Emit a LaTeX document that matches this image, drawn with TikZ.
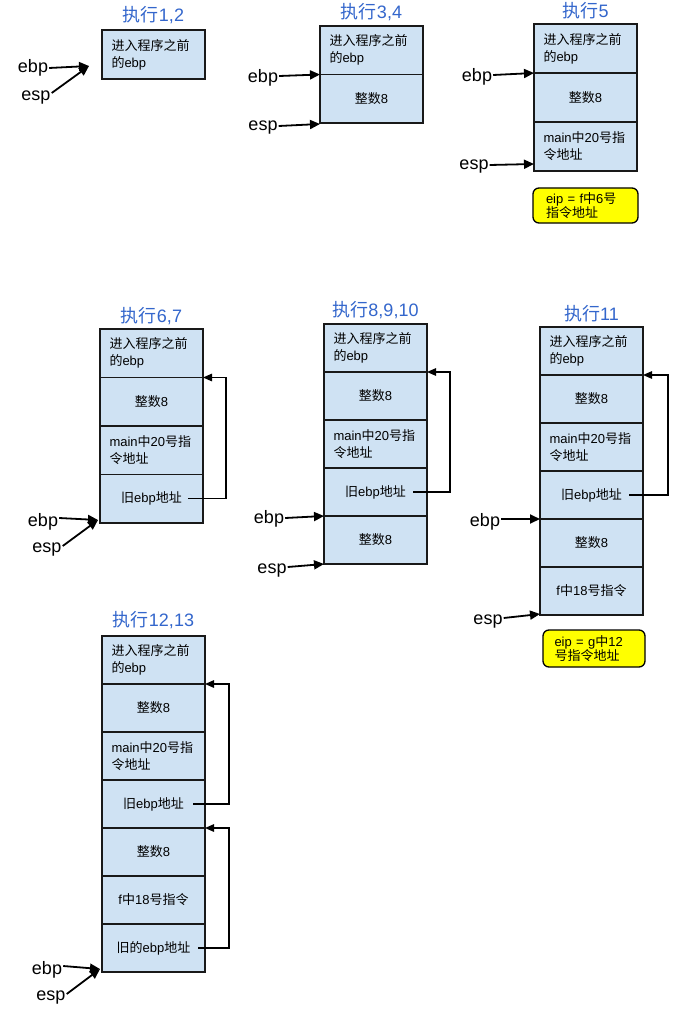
\documentclass[tikz,border=0pt]{standalone}
\usepackage{fontspec}
\setmainfont{Liberation Sans}
\newfontfamily\cjk{Noto Sans CJK SC}
\newcommand\zh[1]{{\cjk #1}}
\usetikzlibrary{arrows.meta}
\definecolor{cellblue}{RGB}{207,226,243}
\definecolor{titleblue}{RGB}{51,102,204}
\definecolor{hl}{RGB}{255,255,0}
\tikzset{
  cell/.style={draw=black!90, line width=1.3pt, fill=cellblue, minimum width=103pt, outer sep=0pt,
    minimum height=48.5pt, inner sep=0pt, font=\fontsize{13}{17}\selectfont, anchor=north west},
  cellL/.style={cell, text width=84pt, align=left},
  cellC/.style={cell, align=center},
  ttl/.style={text=titleblue, font=\fontsize{18}{20}\selectfont, inner sep=0pt},
  reg/.style={font=\fontsize{18}{20}\selectfont, inner sep=1pt},
  ptr/.style={-{Triangle[length=10pt,width=9pt]}, line width=1.8pt},
  back/.style={-{Triangle[length=9pt,width=7.5pt]}, line width=1.3pt},
  note/.style={draw=black, line width=1.3pt, fill=hl, rounded corners=6pt, outer sep=0pt,
    inner sep=0pt, text width=79pt, align=left,
    font=\fontsize{13}{13.5}\selectfont, anchor=north west}
}
\begin{document}
\begin{tikzpicture}[x=1pt,y=-1pt]
\useasboundingbox[fill=white] (0,0) rectangle (685,1011);

% ---------- 执行1,2
\node[cellL, minimum height=49pt] (a1) at (102,30) {\zh{进入程序之前}\\\zh{的}ebp};
\node[ttl] (t1) at ([yshift=15pt]a1.north) {\zh{执行}1,2};
\node[reg] (ebp1) at (33,68) {ebp};
\node[reg] (esp1) at (36,98) {esp};
\coordinate (p1) at (89,66);
\draw[ptr] (ebp1.east) -- (p1);
\draw[ptr] ([yshift=5pt]esp1.east) -- (p1);

% ---------- 执行3,4
\node[cellL] (a2) at (320,26) {\zh{进入程序之前}\\\zh{的}ebp};
\node[cellC] (b2) at (a2.south west) {\zh{整数}8};
\node[ttl] (t2) at ([yshift=14pt]a2.north) {\zh{执行}3,4};
\node[reg] (ebp2) at (263,78) {ebp};
\node[reg] (esp2) at (263,128) {esp};
\draw[ptr] ([yshift=2pt]ebp2.east) -- (b2.north west);
\draw[ptr] ([yshift=2pt]esp2.east) -- ([yshift=-1pt]b2.south west);

% ---------- 执行5
\node[cellL, minimum height=49pt] (a3) at (534,24) {\zh{进入程序之前}\\\zh{的}ebp};
\node[cellC, minimum height=49pt] (b3) at (a3.south west) {\zh{整数}8};
\node[cellL, minimum height=49pt] (c3) at (b3.south west) {main\zh{中}20\zh{号指}\\\zh{令地址}};
\node[ttl] (t3) at ([yshift=13pt]a3.north) {\zh{执行}5};
\node[reg] (ebp3) at (477,77) {ebp};
\node[reg] (esp3) at (474,167) {esp};
\draw[ptr] ([yshift=2pt]ebp3.east) -- (b3.north west);
\draw[ptr] ([yshift=2pt]esp3.east) -- ([yshift=7pt]c3.south west);
\node[note, minimum width=105pt, minimum height=35pt] (n3) at (533,188) {eip = f\zh{中}6\zh{号}\\\zh{指令地址}};

% ---------- 执行6,7
\node[cellL] (a4) at (100,329) {\zh{进入程序之前}\\\zh{的}ebp};
\node[cellC] (b4) at (a4.south west) {\zh{整数}8};
\node[cellL] (c4) at (b4.south west) {main\zh{中}20\zh{号指}\\\zh{令地址}};
\node[cellC] (d4) at (c4.south west) {\zh{旧}ebp\zh{地址}};
\node[ttl] (t4) at ([yshift=13pt]a4.north) {\zh{执行}6,7};
\draw[back] ([xshift=-15pt]d4.east) -- ++(38,0) |- (b4.north east);
\node[reg] (ebp4) at (43,522) {ebp};
\node[reg] (esp4) at (47,550) {esp};
\coordinate (p4) at ([shift={(-2pt,3pt)}]d4.south west);
\draw[ptr] ([yshift=4pt]ebp4.east) -- (p4);
\draw[ptr] ([yshift=4pt]esp4.east) -- (p4);

% ---------- 执行8,9,10
\node[cellL, minimum height=48pt] (a5) at (324,324) {\zh{进入程序之前}\\\zh{的}ebp};
\node[cellC, minimum height=48pt] (b5) at (a5.south west) {\zh{整数}8};
\node[cellL, minimum height=48pt] (c5) at (b5.south west) {main\zh{中}20\zh{号指}\\\zh{令地址}};
\node[cellC, minimum height=48pt] (d5) at (c5.south west) {\zh{旧}ebp\zh{地址}};
\node[cellC, minimum height=48pt] (e5) at (d5.south west) {\zh{整数}8};
\node[ttl] (t5) at ([yshift=14pt]a5.north) {\zh{执行}8,9,10};
\draw[back] ([xshift=-14pt]d5.east) -- ++(37,0) |- (b5.north east);
\node[reg] (ebp5) at (269,519) {ebp};
\node[reg] (esp5) at (272,571) {esp};
\draw[ptr] ([yshift=1pt]ebp5.east) -- (e5.north west);
\draw[ptr] ([yshift=4pt]esp5.east) -- (e5.south west);

% ---------- 执行11
\node[cellL, minimum height=48pt] (a6) at (540,327) {\zh{进入程序之前}\\\zh{的}ebp};
\node[cellC, minimum height=48pt] (b6) at (a6.south west) {\zh{整数}8};
\node[cellL, minimum height=48pt] (c6) at (b6.south west) {main\zh{中}20\zh{号指}\\\zh{令地址}};
\node[cellC, minimum height=48pt] (d6) at (c6.south west) {\zh{旧}ebp\zh{地址}};
\node[cellC, minimum height=48pt] (e6) at (d6.south west) {\zh{整数}8};
\node[cellC, minimum height=48pt] (f6) at (e6.south west) {f\zh{中}18\zh{号指令}};
\node[ttl] (t6) at ([yshift=13pt]a6.north) {\zh{执行}11};
\draw[back] ([xshift=-14pt]d6.east) -- ++(39,0) |- (b6.north east);
\node[reg] (ebp6) at (485,522) {ebp};
\node[reg] (esp6) at (488,622) {esp};
\draw[ptr] ([yshift=3pt]ebp6.east) -- (e6.north west);
\draw[ptr] ([yshift=4pt]esp6.east) -- ([yshift=1pt]f6.south west);
\node[note, minimum width=102pt, minimum height=37pt] (n6) at (543,630) {eip = g\zh{中}12\\\zh{号指令地址}};

% ---------- 执行12,13
\node[cellL, minimum height=48pt] (a7) at (102,636) {\zh{进入程序之前}\\\zh{的}ebp};
\node[cellC, minimum height=48pt] (b7) at (a7.south west) {\zh{整数}8};
\node[cellL, minimum height=48pt] (c7) at (b7.south west) {main\zh{中}20\zh{号指}\\\zh{令地址}};
\node[cellC, minimum height=48pt] (d7) at (c7.south west) {\zh{旧}ebp\zh{地址}};
\node[cellC, minimum height=48pt] (e7) at (d7.south west) {\zh{整数}8};
\node[cellC, minimum height=48pt] (f7) at (e7.south west) {f\zh{中}18\zh{号指令}};
\node[cellC, minimum height=48pt] (g7) at (f7.south west) {\zh{旧的}ebp\zh{地址}};
\node[ttl] (t7) at ([yshift=16pt]a7.north) {\zh{执行}12,13};
\draw[back] ([xshift=-12pt]d7.east) -- ++(36,0) |- (b7.north east);
\draw[back] ([xshift=-7pt]g7.east) -- ++(31,0) |- (e7.north east);
\node[reg] (ebp7) at (47,970) {ebp};
\node[reg] (esp7) at (51,998) {esp};
\coordinate (p7) at ([shift={(-2pt,3pt)}]g7.south west);
\draw[ptr] ([yshift=4pt]ebp7.east) -- (p7);
\draw[ptr] ([yshift=4pt]esp7.east) -- (p7);
\end{tikzpicture}
\end{document}
